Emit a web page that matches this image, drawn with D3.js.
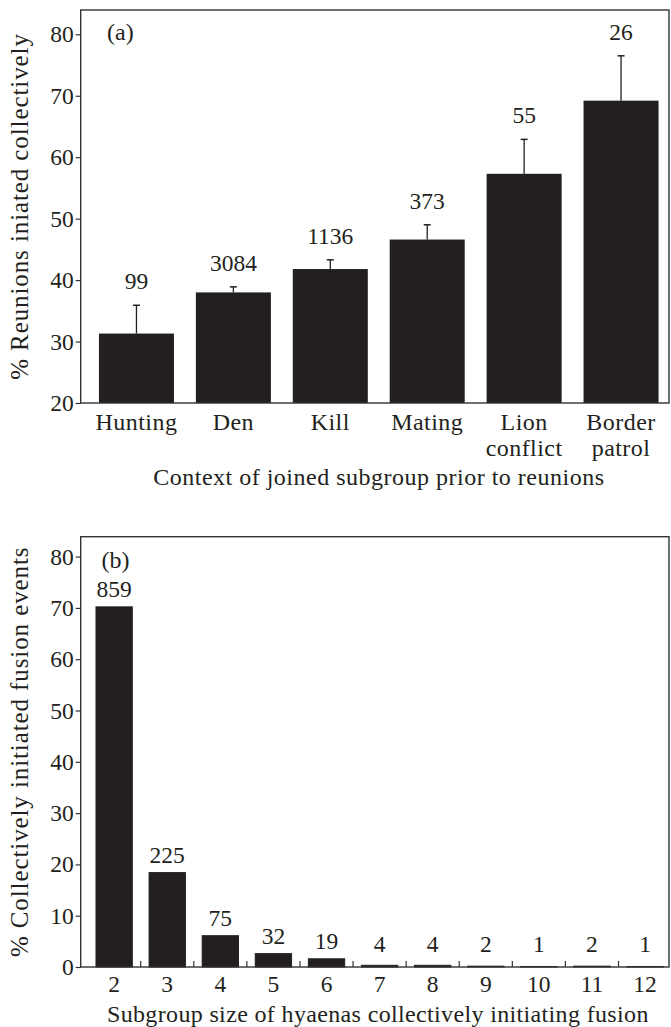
<!DOCTYPE html>
<html>
<head>
<meta charset="utf-8">
<script src="https://cdn.jsdelivr.net/npm/d3@7"></script>
<style>
  html, body { margin: 0; padding: 0; background: #fff; }
</style>
</head>
<body>
<svg id="chart" width="671" height="1027" font-family="'Liberation Serif', 'DejaVu Serif', serif"></svg>
<script>
// Panel (a): share of reunions initiated collectively, by context
const contexts = [["Hunting"], ["Den"], ["Kill"], ["Mating"], ["Lion", "conflict"], ["Border", "patrol"]];
const contextPct = [31.3, 38.0, 41.8, 46.6, 57.3, 69.2];
const contextErrTop = [35.9, 38.9, 43.3, 49.0, 62.9, 76.5];
const contextN = ["99", "3084", "1136", "373", "55", "26"];
const contextTicks = [20, 30, 40, 50, 60, 70, 80];

// Panel (b): share of collectively initiated fusion events, by subgroup size
const sizes = ["2", "3", "4", "5", "6", "7", "8", "9", "10", "11", "12"];
const sizePct = [70.2, 18.4, 6.1, 2.6, 1.6, 0.33, 0.33, 0.16, 0.08, 0.16, 0.08];
const sizeN = ["859", "225", "75", "32", "19", "4", "4", "2", "1", "2", "1"];
const sizeTicks = [0, 10, 20, 30, 40, 50, 60, 70, 80];

const ink = "#231f20";
const serif = "'Liberation Serif', 'DejaVu Serif', serif";
const numSize = 23.5;   // numbers
const wordSize = 24;    // category and axis words
const svg = d3.select("#chart");

const left = 80.7, right = 669;

function label(sel, size = numSize, spacing = 0) {
  return sel.attr("font-family", serif).attr("font-size", size)
    .attr("letter-spacing", spacing).attr("fill", ink);
}

function frame(g, top, bottom) {
  g.append("rect")
    .attr("x", left).attr("y", top)
    .attr("width", right - left).attr("height", bottom - top)
    .attr("fill", "none").attr("stroke", "#333").attr("stroke-width", 1.4);
}

function yAxis(g, y, ticks) {
  const ax = d3.axisLeft(y).tickValues(ticks).tickSize(5).tickPadding(2).tickFormat(d3.format("d"));
  const a = g.append("g").attr("transform", `translate(${left},0)`).call(ax)
    .attr("font-family", serif).attr("font-size", numSize);
  a.select(".domain").remove();
  a.selectAll(".tick line").attr("stroke", "#333").attr("stroke-width", 1.2);
  label(a.selectAll(".tick text"));
}

// ---------- Panel (a) ----------
{
  const top = 10, bottom = 403;
  const g = svg.append("g");
  const x = d3.scaleBand().domain(d3.range(contexts.length))
    .range([88, 669.5]).paddingInner(0.226).paddingOuter(0.113);
  const y = d3.scaleLinear().domain([20, 20 + (bottom - top) / 6.145]).range([bottom, top]);

  // bars
  g.selectAll("rect.bar").data(contextPct).join("rect")
    .attr("class", "bar")
    .attr("x", (d, i) => x(i)).attr("width", x.bandwidth())
    .attr("y", d => y(d)).attr("height", d => y(20) - y(d))
    .attr("fill", ink);

  // error bars (upper half only)
  const eb = g.selectAll("g.err").data(contextErrTop).join("g").attr("class", "err");
  eb.append("line")
    .attr("x1", (d, i) => x(i) + x.bandwidth() / 2).attr("x2", (d, i) => x(i) + x.bandwidth() / 2)
    .attr("y1", (d, i) => y(contextPct[i])).attr("y2", d => y(d))
    .attr("stroke", ink).attr("stroke-width", 1.3);
  eb.append("line")
    .attr("x1", (d, i) => x(i) + x.bandwidth() / 2 - 3.5).attr("x2", (d, i) => x(i) + x.bandwidth() / 2 + 3.5)
    .attr("y1", d => y(d)).attr("y2", d => y(d))
    .attr("stroke", ink).attr("stroke-width", 1.5);

  // sample sizes
  label(g.selectAll("text.n").data(contextN).join("text"))
    .attr("class", "n")
    .attr("x", (d, i) => x(i) + x.bandwidth() / 2)
    .attr("y", (d, i) => y(contextErrTop[i]) - 16)
    .attr("text-anchor", "middle")
    .text(d => d);

  frame(g, top, bottom);
  yAxis(g, y, contextTicks);

  // category labels (one or two lines)
  const cl = label(g.selectAll("text.cat").data(contexts).join("text"), wordSize, 0.45)
    .attr("class", "cat")
    .attr("text-anchor", "middle");
  cl.selectAll("tspan").data((d, i) => d.map(s => ({ s, i }))).join("tspan")
    .attr("x", d => x(d.i) + x.bandwidth() / 2)
    .attr("y", (d, j) => 430 + j * 26)
    .text(d => d.s);

  label(g.append("text"), wordSize, 0.5).attr("x", (left + right) / 2 + 4).attr("y", 485)
    .attr("text-anchor", "middle")
    .text("Context of joined subgroup prior to reunions");

  label(g.append("text"), 25, 0.9)
    .attr("transform", `translate(28,${(top + bottom) / 2}) rotate(-90)`)
    .attr("text-anchor", "middle")
    .text("% Reunions iniated collectively");

  label(g.append("text"), wordSize).attr("x", 107).attr("y", 40).text("(a)");
}

// ---------- Panel (b) ----------
{
  const top = 536.7, bottom = 967;
  const g = svg.append("g");
  const x = d3.scaleBand().domain(sizes)
    .range([87.6, 671.6]).paddingInner(0.316).paddingOuter(0.158);
  const y = d3.scaleLinear().domain([0, (bottom - top) / 5.13]).range([bottom, top]);

  g.selectAll("rect.bar").data(sizePct).join("rect")
    .attr("class", "bar")
    .attr("x", (d, i) => x(sizes[i])).attr("width", x.bandwidth())
    .attr("y", d => y(d)).attr("height", d => y(0) - y(d))
    .attr("fill", ink).attr("stroke", ink).attr("stroke-width", 1);

  label(g.selectAll("text.n").data(sizeN).join("text"))
    .attr("class", "n")
    .attr("x", (d, i) => x(sizes[i]) + x.bandwidth() / 2)
    .attr("y", (d, i) => Math.min(y(sizePct[i]) - 10, 952))
    .attr("text-anchor", "middle")
    .text(d => d);

  frame(g, top, bottom);
  yAxis(g, y, sizeTicks);

  // small inward ticks between size classes
  const step = x.step();
  g.selectAll("line.sep").data(sizes.slice(1)).join("line")
    .attr("class", "sep")
    .attr("x1", d => x(d) - (step - x.bandwidth()) / 2).attr("x2", d => x(d) - (step - x.bandwidth()) / 2)
    .attr("y1", bottom).attr("y2", bottom - 6)
    .attr("stroke", "#333").attr("stroke-width", 1.2);

  label(g.selectAll("text.size").data(sizes).join("text"))
    .attr("class", "size")
    .attr("x", d => x(d) + x.bandwidth() / 2).attr("y", 992)
    .attr("text-anchor", "middle")
    .text(d => d);

  label(g.append("text"), wordSize, 0.35).attr("x", (left + right) / 2 + 3).attr("y", 1022)
    .attr("text-anchor", "middle")
    .text("Subgroup size of hyaenas collectively initiating fusion");

  label(g.append("text"), 25, 0.9)
    .attr("transform", `translate(28,${(top + bottom) / 2}) rotate(-90)`)
    .attr("text-anchor", "middle")
    .text("% Collectively initiated fusion events");

  label(g.append("text"), wordSize).attr("x", 101.5).attr("y", 568).text("(b)");
}
</script>
</body>
</html>
